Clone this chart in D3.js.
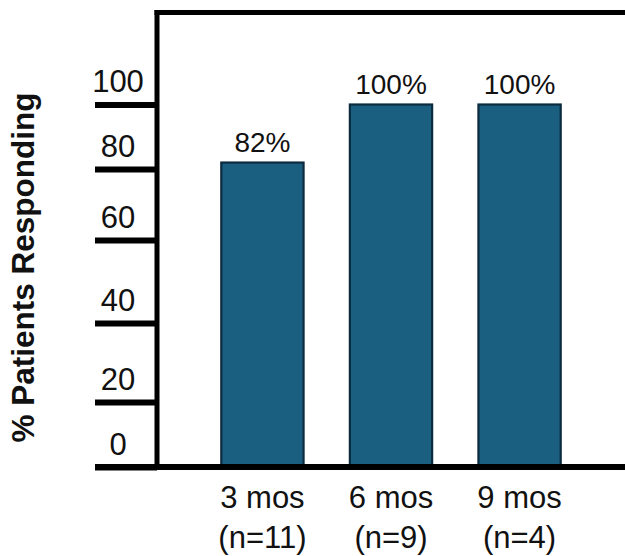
<!DOCTYPE html>
<html>
<head>
<meta charset="utf-8">
<script src="https://cdn.jsdelivr.net/npm/d3@7"></script>
<style>
  html, body { margin: 0; padding: 0; background: #fff; }
  svg { display: block; }
  text { font-family: "Liberation Sans", Arial, sans-serif; fill: #111; }
</style>
</head>
<body>
<svg id="chart" width="625" height="556"></svg>
<script>
// Response rate by follow-up time point
const categories = ["3 mos", "6 mos", "9 mos"];
const sampleSizes = ["(n=11)", "(n=9)", "(n=4)"];
const responseRates = [82, 100, 100];
const barLabels = ["82%", "100%", "100%"];
const yTickValues = [0, 20, 40, 60, 80, 100];
const yTickLabels = ["0", "20", "40", "60", "80", "100"];

const svg = d3.select("#chart");

const axisX = 157, baseY = 467, topY = 12.5, rightX = 625;

// The value axis is spaced unevenly, so a piecewise linear scale is used
const y = d3.scaleLinear()
  .domain(yTickValues)
  .range([baseY, 402, 323, 240, 169, 104.5]);

const x = d3.scaleBand()
  .domain(categories)
  .range([axisX, rightX])
  .paddingInner(0.36)
  .paddingOuter(0.5);

// Bars
svg.append("g")
  .selectAll("rect")
  .data(responseRates)
  .join("rect")
  .attr("x", (d, i) => x(categories[i]))
  .attr("y", d => y(d))
  .attr("width", x.bandwidth())
  .attr("height", d => baseY - y(d))
  .attr("fill", "#1a5f80")
  .attr("stroke", "#0c2b3e")
  .attr("stroke-width", 2.2);

// Value labels above bars
svg.append("g")
  .selectAll("text")
  .data(responseRates)
  .join("text")
  .attr("x", (d, i) => x(categories[i]) + x.bandwidth() / 2)
  .attr("y", d => y(d) - 11)
  .attr("text-anchor", "middle")
  .attr("font-size", 28)
  .text((d, i) => barLabels[i]);

// Left axis: thick ticks with labels sitting above them
const yAxis = d3.axisLeft(y)
  .tickValues(yTickValues)
  .tickSize(62)
  .tickFormat((d, i) => yTickLabels[i]);

const yG = svg.append("g")
  .attr("transform", `translate(${axisX},0)`)
  .call(yAxis);
yG.select(".domain").remove();
yG.selectAll(".tick line")
  .attr("stroke", "#000")
  .attr("stroke-width", 6);
yG.selectAll(".tick text")
  .attr("x", -39)
  .attr("dy", -13)
  .attr("text-anchor", "middle")
  .attr("font-size", 31)
  .attr("fill", "#111");

// Frame: left axis line, top rule and baseline
svg.append("line")
  .attr("x1", axisX).attr("x2", axisX)
  .attr("y1", topY - 2.5).attr("y2", baseY + 3)
  .attr("stroke", "#000").attr("stroke-width", 5);
svg.append("line")
  .attr("x1", axisX - 2.5).attr("x2", rightX)
  .attr("y1", topY).attr("y2", topY)
  .attr("stroke", "#000").attr("stroke-width", 5);
svg.append("line")
  .attr("x1", 95).attr("x2", rightX)
  .attr("y1", baseY).attr("y2", baseY)
  .attr("stroke", "#000").attr("stroke-width", 6);

// Category labels, two lines each
const catG = svg.append("g")
  .selectAll("text")
  .data(categories)
  .join("text")
  .attr("text-anchor", "middle")
  .attr("font-size", 31)
  .attr("x", d => x(d) + x.bandwidth() / 2);
catG.append("tspan")
  .attr("x", d => x(d) + x.bandwidth() / 2)
  .attr("y", 508)
  .text(d => d);
catG.append("tspan")
  .attr("x", d => x(d) + x.bandwidth() / 2)
  .attr("y", 548)
  .text((d, i) => sampleSizes[i]);

// Axis title
svg.append("text")
  .attr("transform", "translate(34,267.5) rotate(-90)")
  .attr("text-anchor", "middle")
  .attr("font-size", 31.5)
  .attr("font-weight", "bold")
  .text("% Patients Responding");
</script>
</body>
</html>
